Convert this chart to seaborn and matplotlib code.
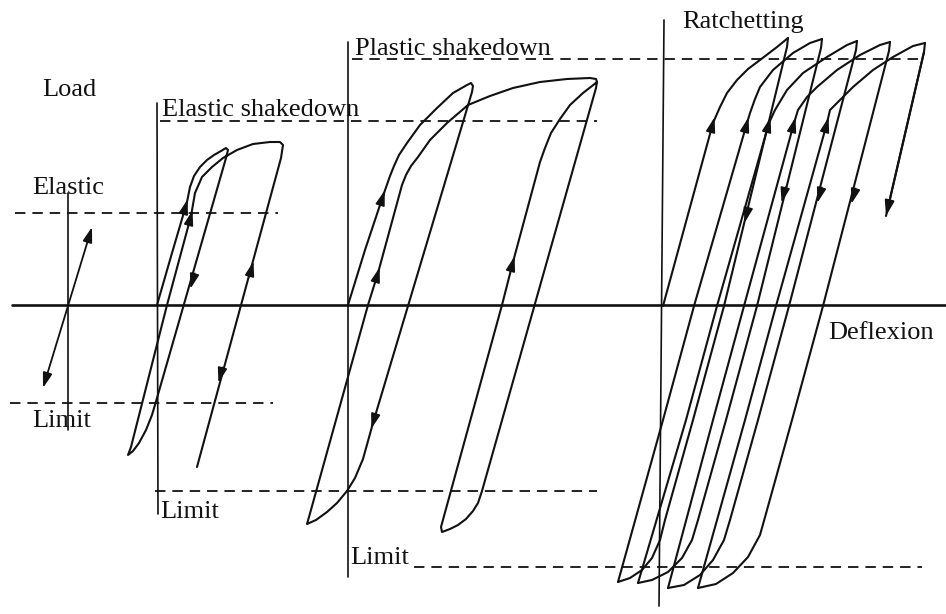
import numpy as np
import pandas as pd
import matplotlib
matplotlib.use("Agg")
import matplotlib.pyplot as plt
import seaborn as sns

# ---------------- data (picture coordinates, y grows downward) ----------------
# axes of the schematic
axis_h_x = [12, 946]
axis_h_y = [305, 305]
v1_x = [68, 68];   v1_y = [193, 430]
v2_x = [157, 158]; v2_y = [103, 514]
v3_x = [348, 348]; v3_y = [42, 577]
v4_x = [664, 659]; v4_y = [20, 606]

# dashed reference levels
d_elastic_x = [15, 278];    d_elastic_y = [213, 213]
d_limit1_x = [10, 273];     d_limit1_y = [403, 403]
d_eshake_x = [160, 597];    d_eshake_y = [121, 121]
d_limit2_x = [155, 597];    d_limit2_y = [491, 491]
d_pshake_x = [352, 922];    d_pshake_y = [59, 59]
d_limit3_x = [414, 922];    d_limit3_y = [567, 567]

# elastic shakedown loop
c2_x = [157, 172, 187, 190, 194, 200, 207, 214, 221, 226, 228, 226, 157, 152, 146, 139, 133, 128,
        131, 167, 191, 195, 202, 212, 223, 237, 253, 270, 280, 283, 281, 197]
c2_y = [305, 253, 202, 187, 176, 167, 160, 155, 151, 148, 150, 158, 398, 415, 430, 443, 451, 455,
        447, 305, 216, 193, 177, 167, 158, 150, 144, 142, 142, 145, 158, 467]

# plastic shakedown loop
c3_x = [348, 365, 383, 390, 394, 399, 407, 420, 437, 453, 467, 471, 473, 472, 373, 363, 355, 347, 337,
        327, 316, 307, 309, 368, 378, 402, 406, 411, 418, 430, 447, 468, 490, 513, 540, 567, 590, 596,
        597, 596, 482, 478, 473, 466, 458, 450, 442, 441, 502, 513, 540, 545, 551, 560, 570, 583,
        592, 597]
c3_y = [305, 250, 196, 176, 166, 155, 143, 125, 108, 93, 85, 83, 86, 92, 423, 459, 478, 491, 503,
        512, 520, 524, 517, 305, 273, 185, 175, 166, 157, 140, 123, 105, 96, 88, 82, 79, 78, 79,
        82, 88, 491, 503, 511, 519, 525, 529, 532, 527, 305, 262, 162, 148, 133, 119, 105, 93,
        86, 82]

# ratchetting: loading branches
l1_x = [663, 713, 720, 727, 737, 748, 760, 777, 788]
l1_y = [306, 123, 107, 93, 80, 69, 60, 47, 38]
l2_x = [618, 663, 694, 747, 750, 755, 760, 773, 793, 810, 822]
l2_y = [582, 420, 306, 123, 113, 99, 87, 70, 53, 43, 39]
l3_x = [638, 686, 717, 769, 775, 787, 803, 827, 847, 857]
l3_y = [583, 420, 306, 123, 110, 90, 73, 57, 45, 41]
l4_x = [668, 713, 744, 794, 798, 807, 817, 837, 860, 880, 890]
l4_y = [588, 420, 306, 123, 110, 97, 87, 70, 55, 45, 42]
l5_x = [698, 745, 776, 827, 830, 840, 853, 873, 893, 913, 925]
l5_y = [588, 420, 306, 123, 110, 100, 87, 70, 57, 46, 43]
# ratchetting: unloading branches
u1_x = [788, 787, 724, 693, 665, 660, 652, 642, 630, 618]
u1_y = [38, 47, 306, 420, 520, 540, 558, 570, 578, 582]
u2_x = [822, 821, 757, 726, 698, 692, 682, 668, 652, 638]
u2_y = [39, 48, 306, 420, 520, 540, 558, 572, 580, 583]
u3_x = [857, 856, 789, 758, 730, 724, 713, 700, 684, 668]
u3_y = [41, 50, 306, 420, 520, 540, 560, 575, 585, 588]
u4_x = [890, 889, 823, 792, 767, 760, 748, 733, 716, 698]
u4_y = [42, 51, 306, 420, 510, 535, 557, 573, 584, 588]
u5_x = [925, 924, 886]
u5_y = [43, 52, 216]

# arrowheads: centre x, centre y, direction (+1 up / -1 down), slope dx/dy
arrow_x = [186, 191, 192, 252, 220, 383, 378, 373, 513,
           713, 747, 769, 794, 827, 746, 783, 819, 853]
arrow_y = [205, 216, 283, 267, 377, 196, 273, 423, 262,
           123, 123, 123, 123, 123, 217, 197, 197, 198]
arrow_dir = [1, 1, -1, 1, -1, 1, 1, -1, 1,
             1, 1, 1, 1, 1, -1, -1, -1, -1]
arrow_slope = [0.29, 0.27, 0.28, 0.27, 0.27, 0.32, 0.30, 0.30, 0.28,
               0.27, 0.27, 0.27, 0.27, 0.27, 0.25, 0.24, 0.28, 0.28]

# labels
label_text = ["Load", "Elastic", "Limit", "Elastic shakedown", "Limit",
              "Plastic shakedown", "Limit", "Ratchetting", "Deflexion"]
label_x = [42, 32, 32, 162, 160, 355, 350, 682, 828]
label_y = [96, 194, 427, 116, 518, 55, 564, 28, 339]

# ---------------- drawing ----------------
sns.set_theme(style="white")
plt.rcParams["font.family"] = ["Liberation Serif", "DejaVu Serif"]
plt.rcParams["lines.scale_dashes"] = False

fig = plt.figure(figsize=(9.46, 6.14), dpi=100)
ax = fig.add_axes([0, 0, 1, 1])


def frame(pairs):
    rows = []
    for i, (xs, ys) in enumerate(pairs):
        for k, (xx, yy) in enumerate(zip(xs, ys)):
            rows.append({"x": xx, "y": yy, "id": i, "k": k})
    return pd.DataFrame(rows)


ink = "#111111"

# main horizontal axis
sns.lineplot(data=frame([(axis_h_x, axis_h_y)]), x="x", y="y", units="id",
             estimator=None, sort=False, color=ink, lw=1.9, ax=ax, legend=False)
# vertical axes
sns.lineplot(data=frame([(v1_x, v1_y), (v2_x, v2_y), (v3_x, v3_y), (v4_x, v4_y)]),
             x="x", y="y", units="id", estimator=None, sort=False,
             color=ink, lw=1.2, ax=ax, legend=False)
# dashed levels
dash_df = frame([(d_elastic_x, d_elastic_y), (d_limit1_x, d_limit1_y),
                 (d_eshake_x, d_eshake_y), (d_limit2_x, d_limit2_y),
                 (d_pshake_x, d_pshake_y), (d_limit3_x, d_limit3_y)])
sns.lineplot(data=dash_df, x="x", y="y", units="id", estimator=None, sort=False,
             color=ink, lw=1.3, linestyle=(0, (7.5, 5.0)), ax=ax, legend=False)
# loops
curve_df = frame([(c2_x, c2_y), (c3_x, c3_y),
                  (l1_x, l1_y), (l2_x, l2_y), (l3_x, l3_y), (l4_x, l4_y), (l5_x, l5_y),
                  (u1_x, u1_y), (u2_x, u2_y), (u3_x, u3_y), (u4_x, u4_y), (u5_x, u5_y)])
sns.lineplot(data=curve_df, x="x", y="y", units="id", estimator=None, sort=False,
             color=ink, lw=1.5, ax=ax, legend=False)
for ln in ax.lines:
    ln.set_solid_joinstyle("round")
    ln.set_solid_capstyle("round")

head = "-|>,head_length=0.45,head_width=0.14"
# elastic double arrow
ax.annotate("", xy=(92, 227), xytext=(43, 388),
            arrowprops=dict(arrowstyle="<|-|>,head_length=0.45,head_width=0.14",
                            mutation_scale=20, color=ink, lw=1.3,
                            shrinkA=0, shrinkB=0))
# final open arrow of ratchetting
ax.annotate("", xy=(u5_x[-1], u5_y[-1]), xytext=(u5_x[-2], u5_y[-2]),
            arrowprops=dict(arrowstyle=head, mutation_scale=20, color=ink, lw=1.5,
                            shrinkA=0, shrinkB=0))
# arrowheads along branches
for cx, cy, dr, s in zip(arrow_x, arrow_y, arrow_dir, arrow_slope):
    vx, vy = (s, -1.0) if dr > 0 else (-s, 1.0)
    n = np.hypot(vx, vy)
    vx, vy = vx / n, vy / n
    tip = (cx + 6 * vx, cy + 6 * vy)
    tail = (cx - 10 * vx, cy - 10 * vy)
    ax.annotate("", xy=tip, xytext=tail,
                arrowprops=dict(arrowstyle=head, mutation_scale=20, color=ink,
                                lw=1.2, shrinkA=0, shrinkB=0))

for t, tx, ty in zip(label_text, label_x, label_y):
    ax.text(tx, ty, t, fontsize=19, color=ink, ha="left", va="baseline",
            family=["Liberation Serif", "DejaVu Serif"])

ax.set_xlim(0, 946)
ax.set_ylim(614, 0)
ax.axis("off")
fig.savefig("out.png", dpi=100, facecolor="white")
